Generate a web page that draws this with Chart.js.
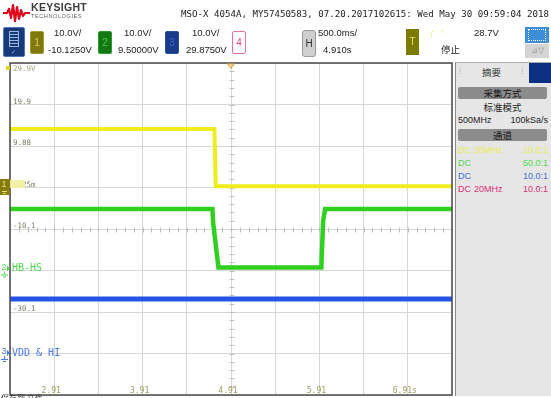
<!DOCTYPE html>
<html>
<head>
<meta charset="utf-8">
<script src="https://cdn.jsdelivr.net/npm/chart.js@4.4.0/dist/chart.umd.min.js"></script>
<style>
body{margin:0;background:#fff;width:551px;height:398px;overflow:hidden;position:relative;font-family:"Liberation Sans",Arial,sans-serif;color:#222}
.a{position:absolute;white-space:nowrap}
.cjk{font-family:"Noto Sans CJK SC",sans-serif}
.ch{width:12px;height:21px;top:31px;border-radius:2px;font-size:10px;line-height:21px;text-align:center}
.txt{font-size:9.5px}
.bar{left:458px;width:89px;height:12px;background:#8c8c8c;border-radius:2px;font-size:9.5px;line-height:12px;text-align:center;color:#111}
.row{font-size:9px;line-height:11px}
.r{right:3px}
</style>
</head>
<body>
<canvas id="scope" class="a" style="left:0;top:0" width="551" height="398"></canvas>

<!-- header -->
<svg class="a" style="left:2px;top:3px" width="30" height="20">
  <polyline points="1,10 5,10 7,6 9,15 11,2 13,18 15,4 17,16 19,7 21,13 23,10 28,10" fill="none" stroke="#e2001a" stroke-width="2.2" stroke-linejoin="round"/>
</svg>
<div class="a" style="left:31px;top:1px;font-size:10.5px;font-weight:bold;color:#3b3b3b;letter-spacing:.3px">KEYSIGHT</div>
<div class="a" style="left:31px;top:13px;font-size:5.6px;color:#666;letter-spacing:.55px">TECHNOLOGIES</div>
<div class="a" style="left:181px;top:9px;font-family:'DejaVu Sans Mono',monospace;font-size:9.15px;color:#222">MSO-X 4054A, MY57450583, 07.20.2017102615: Wed May 30 09:59:04 2018</div>

<div class="a" style="left:3px;top:27px;width:20px;height:28px;background:#163a78;border:1px solid #4a78c8;border-radius:2px"></div>
<div class="a" style="left:9px;top:31px;width:8px;height:14px;border:1px solid #9fb6e6;background:repeating-linear-gradient(#163a78 0 2px,#9fb6e6 2px 3px)"></div>
<div class="a" style="left:11px;top:48px;font-size:6px;color:#9fb6e6">&#10003;</div>

<div class="a ch" style="left:30px;background:#80780c;border:1px solid #a09a30;color:#d8d050">1</div>
<div class="a txt" style="left:54px;top:27px">10.0V/</div>
<div class="a txt" style="left:48px;top:44px">-10.1250V</div>

<div class="a ch" style="left:98px;background:#137813;border:1px solid #2a9a2a;color:#44d044">2</div>
<div class="a txt" style="left:124px;top:27px">10.0V/</div>
<div class="a txt" style="left:118px;top:44px">9.50000V</div>

<div class="a ch" style="left:165px;background:#1a3c88;border:1px solid #2a50a0;color:#3a6ad0">3</div>
<div class="a txt" style="left:192px;top:27px">10.0V/</div>
<div class="a txt" style="left:186px;top:44px">29.8750V</div>

<div class="a ch" style="left:232px;background:#fff;border:1px solid #e870a8;color:#e04890">4</div>

<div class="a" style="left:302px;top:30px;width:12px;height:25px;background:#cfcfcf;border:1px solid #9a9a9a;border-radius:3px;font-size:10px;line-height:25px;text-align:center;color:#333">H</div>
<div class="a txt" style="left:318px;top:27px">500.0ms/</div>
<div class="a txt" style="left:323px;top:44px">4.910s</div>

<div class="a" style="left:406px;top:29px;width:13px;height:26px;background:#7d7a00;font-size:10px;line-height:26px;text-align:center;color:#e6e070">T</div>
<div class="a" style="left:430px;top:28px;font-size:8px;color:#eeee80">&#402;</div>
<div class="a" style="left:440px;top:28px;font-size:8px;color:#eeee80">&#8593;</div>
<div class="a txt" style="left:474px;top:27px">28.7V</div>
<div class="a cjk" style="left:441px;top:42px;font-size:9.5px">停止</div>

<div class="a" style="left:525px;top:27px;width:24px;height:16px;background:#3c8fd8"></div>
<div class="a" style="left:528px;top:29px;width:16px;height:10px;border:1px dotted #fff"></div>
<div class="a" style="left:525px;top:44px;width:24px;height:14px;background:#d4d4d4;font-size:8px;line-height:14px;text-align:center;color:#999">&#8895;&#9661;</div>

<!-- side panel -->
<div class="a" style="left:455px;top:62px;width:96px;height:333px;background:#e6e6e6;border-left:1px solid #888;border-top:1px solid #aaa"></div>
<div class="a" style="left:459px;top:66px;font-size:9px;color:#aaa">&#8286;</div>
<div class="a" style="left:521px;top:66px;font-size:9px;color:#aaa">&#8286;</div>
<div class="a cjk" style="left:482px;top:65px;font-size:9.5px;color:#333">摘要</div>
<div class="a" style="left:529px;top:63px;width:22px;height:20px;background:#0b2f82"></div>
<div class="a bar cjk" style="top:87px">采集方式</div>
<div class="a cjk" style="left:458px;width:89px;top:100px;font-size:9.5px;text-align:center">标准模式</div>
<div class="a row" style="left:458px;top:115px">500MHz</div>
<div class="a row r" style="top:115px">100kSa/s</div>
<div class="a bar cjk" style="top:129px">通道</div>
<div class="a row" style="left:458px;top:145px;color:#ecec50">DC</div>
<div class="a row" style="left:474px;top:145px;color:#ecec50">20MHz</div>
<div class="a row r" style="top:145px;color:#ecec50">10.0:1</div>
<div class="a row" style="left:458px;top:158px;color:#4fd84f">DC</div>
<div class="a row r" style="top:158px;color:#4fd84f">50.0:1</div>
<div class="a row" style="left:458px;top:171px;color:#3f6ee0">DC</div>
<div class="a row r" style="top:171px;color:#3f6ee0">10.0:1</div>
<div class="a row" style="left:458px;top:184px;color:#e0307a">DC</div>
<div class="a row" style="left:474px;top:184px;color:#e0307a">20MHz</div>
<div class="a row r" style="top:184px;color:#e0307a">10.0:1</div>

<div class="a cjk" style="left:1px;top:392px;font-size:8px;color:#333">保存到 文件</div>

<script>
// horizontal: 500 ms/div, 4.910 s at centre
var timeGrid = [2.41, 2.91, 3.41, 3.91, 4.41, 4.91, 5.41, 5.91, 6.41, 6.91, 7.41];
var timeLabelAt = [2.91, 3.91, 4.91, 5.91, 6.91];
var timeLabels = ['2.91', '3.91', '4.91', '5.91', '6.91s'];

// vertical grid in channel 1 volts (10 V/div, offset -10.125 V)
var ch1Grid = [-50.125, -40.125, -30.125, -20.125, -10.125, -0.125, 9.875, 19.875, 29.875];
var ch1LabelAt = [29.875, 19.875, 9.875, -0.125, -10.125, -30.125];
var ch1Labels = ['29.9V', '19.9', '9.88', '-125m', '-10.1', '-30.1'];

// channel ranges (offset +/- 4 div of 10 V)
var ch1Range = [-50.125, 29.875];
var ch2Range = [-30.5, 49.5];
var ch3Range = [-10.125, 69.875];
var triggerLevel = 28.7;

// traces, seconds / volts
var yellowT = [2.41, 4.722, 4.738, 7.41];
var yellowV = [14.0, 14.0, 0.2, 0.2];
var greenT = [2.41, 4.70, 4.708, 4.768, 5.932, 5.952, 5.975, 7.41];
var greenV = [14.3, 14.3, 11.0, 0.2, 0.2, 11.5, 14.3, 14.3];
var blueT = [2.41, 7.41];
var blueV = [13.0, 13.0];

var channelNames = ['HB-HS', 'VDD & HI'];

function pts(t, v) {
  return t.map(function (x, i) { return { x: x, y: v[i] }; });
}

function trace(label, t, v, color, axis, width) {
  return {
    label: label, data: pts(t, v), yAxisID: axis,
    borderColor: color, borderWidth: width, pointRadius: 0,
    tension: 0, borderJoinStyle: 'miter', borderCapStyle: 'butt'
  };
}

var MONO = '"DejaVu Sans Mono", monospace';

var scopeDecor = {
  id: 'scopeDecor',
  beforeDatasetsDraw: function (chart) {
    var c = chart.ctx, x = chart.scales.x, y = chart.scales.y;
    var cx = Math.round(x.getPixelForValue(4.91)) + 0.5;
    var cy = Math.round(y.getPixelForValue(-10.125)) + 0.5;
    c.save();
    c.strokeStyle = '#bdbdbd';
    c.lineWidth = 1;
    c.beginPath();
    for (var v = ch1Range[0]; v <= ch1Range[1]; v += 2) {
      var py = Math.round(y.getPixelForValue(v)) + 0.5;
      c.moveTo(cx - 2, py); c.lineTo(cx + 3, py);
    }
    for (var t = timeGrid[0]; t <= timeGrid[timeGrid.length - 1] + 1e-6; t += 0.1) {
      var px = Math.round(x.getPixelForValue(t)) + 0.5;
      c.moveTo(px, cy - 2); c.lineTo(px, cy + 3);
    }
    c.stroke();
    c.restore();
  },
  afterDraw: function (chart) {
    var c = chart.ctx, a = chart.chartArea, s = chart.scales;
    c.save();
    // frame
    c.strokeStyle = '#4a4a4a';
    c.lineWidth = 1.5;
    c.strokeRect(a.left, a.top, a.right - a.left, a.bottom - a.top);

    // ch1 labels
    c.font = '7.5px ' + MONO;
    c.textAlign = 'left';
    c.textBaseline = 'alphabetic';
    ch1LabelAt.forEach(function (v, i) {
      var py = s.y.getPixelForValue(v);
      c.fillStyle = i === 0 ? '#a6a276' : '#7e7c62';
      c.fillText(ch1Labels[i], a.left + 3, i === 0 ? py + 8 : py - 1);
    });

    // time labels
    c.font = '8px ' + MONO;
    c.textAlign = 'center';
    c.fillStyle = '#9c9a5a';
    timeLabelAt.forEach(function (t, i) {
      c.fillText(timeLabels[i], s.x.getPixelForValue(t) - 3, a.bottom - 2);
    });

    // time reference marker
    var tx = s.x.getPixelForValue(4.91);
    c.strokeStyle = '#e0a830';
    c.lineWidth = 1.2;
    c.beginPath();
    c.moveTo(tx - 3, a.top + 1); c.lineTo(tx + 3, a.top + 1); c.lineTo(tx, a.top + 5); c.closePath();
    c.stroke();

    // trigger level marker
    var ty = s.y.getPixelForValue(triggerLevel);
    c.fillStyle = '#e8d020';
    c.fillRect(a.left - 4, ty - 2, 4, 4);

    // ch1 ground marker
    var g1 = s.y.getPixelForValue(0);
    c.fillStyle = 'rgba(244,240,160,0.9)';
    c.fillRect(a.left, g1 - 7, 15, 8);
    c.fillStyle = '#847c0e';
    c.fillRect(0, g1 - 8, 10, 16);
    c.fillStyle = '#ece466';
    c.font = '9px "Liberation Sans", sans-serif';
    c.textAlign = 'center';
    c.textBaseline = 'middle';
    c.fillText('1', 4, g1 - 2);
    c.fillRect(2, g1 + 4, 5, 1);
    c.fillRect(3, g1 + 6, 3, 1);

    // ch2 / ch3 ground markers + names
    [['y2', '#4fd84f', '2'], ['y3', '#4a78e8', '3']].forEach(function (m, i) {
      var g = s[m[0]].getPixelForValue(0);
      c.fillStyle = m[1];
      c.font = '9px "Liberation Sans", sans-serif';
      c.textAlign = 'center';
      c.fillText(m[2], 4, g - 1);
      c.beginPath();
      c.moveTo(7, g - 3); c.lineTo(10, g); c.lineTo(7, g + 3); c.closePath();
      c.fill();
      c.fillRect(4, g + 3, 1, 3);
      c.fillRect(1, g + 6, 7, 1);
      c.fillRect(3, g + 8, 3, 1);
      c.font = '10px ' + MONO;
      c.textAlign = 'left';
      c.fillText(channelNames[i], a.left + 2, g);
    });
    c.restore();
  }
};

new Chart(document.getElementById('scope'), {
  type: 'line',
  data: {
    datasets: [
      trace('1', yellowT, yellowV, '#eeee1c', 'y', 4),
      trace('2', greenT, greenV, '#30d020', 'y2', 4.5),
      trace('3', blueT, blueV, '#2452e6', 'y3', 5)
    ]
  },
  options: {
    responsive: false,
    animation: false,
    devicePixelRatio: 1,
    events: [],
    layout: { padding: { left: 10, top: 63, right: 99, bottom: 3 } },
    plugins: { legend: { display: false }, tooltip: { enabled: false } },
    scales: {
      x: {
        type: 'linear', min: timeGrid[0], max: timeGrid[timeGrid.length - 1],
        afterBuildTicks: function (sc) { sc.ticks = timeGrid.map(function (v) { return { value: v }; }); },
        afterFit: function (sc) { sc.height = 0; },
        ticks: { display: false },
        grid: { color: '#d6d6d6', drawTicks: false },
        border: { display: false }
      },
      y: {
        min: ch1Range[0], max: ch1Range[1],
        afterBuildTicks: function (sc) { sc.ticks = ch1Grid.map(function (v) { return { value: v }; }); },
        afterFit: function (sc) { sc.width = 0; },
        ticks: { display: false },
        grid: { color: '#d6d6d6', drawTicks: false },
        border: { display: false }
      },
      y2: { display: false, min: ch2Range[0], max: ch2Range[1] },
      y3: { display: false, min: ch3Range[0], max: ch3Range[1] }
    }
  },
  plugins: [scopeDecor]
});
</script>
</body>
</html>
